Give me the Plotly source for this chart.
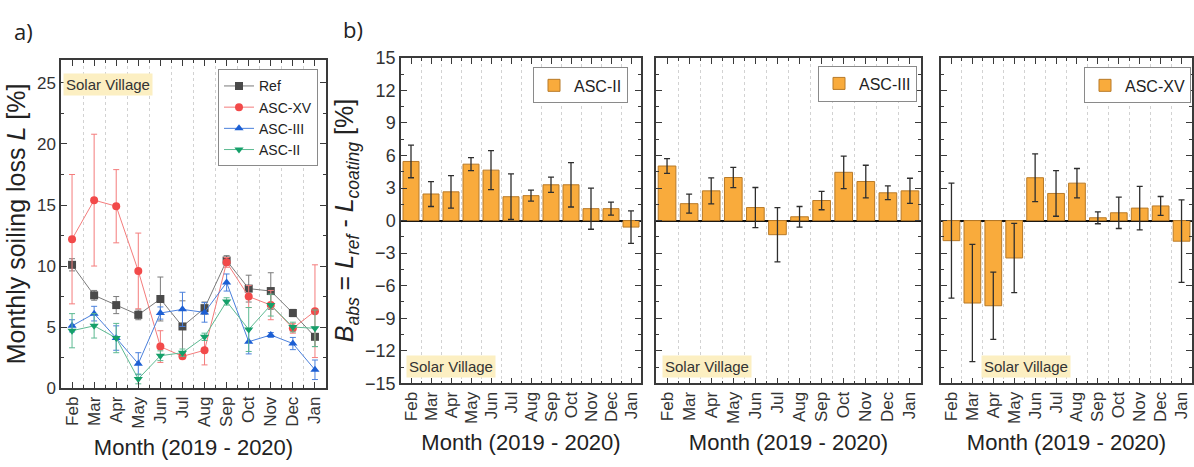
import plotly.graph_objects as go

# ---------------- data ----------------
months = ["Feb", "Mar", "Apr", "May", "Jun", "Jul", "Aug", "Sep", "Oct", "Nov", "Dec", "Jan"]

# Monthly soiling loss L [%] per module, with error bars
loss_ref = [10.1, 7.6, 6.8, 6.0, 7.3, 5.05, 6.55, 10.45, 8.15, 7.95, 6.15, 4.2]
loss_ref_err = [0.5, 0.4, 0.7, 0.4, 1.8, 2.1, 0.5, 0.4, 1.1, 1.5, 0.3, 0.8]
loss_xv = [12.2, 15.4, 14.9, 9.6, 3.4, 2.6, 3.1, 10.3, 7.5, 6.8, 4.9, 6.3]
loss_xv_err = [5.3, 5.4, 3.0, 3.1, 1.3, 0.2, 1.2, 0.4, 0.9, 1.2, 0.4, 3.8]
loss_iii = [5.1, 6.1, 4.1, 2.0, 6.15, 6.45, 6.2, 8.65, 3.8, 4.35, 3.65, 1.5]
loss_iii_err = [0.5, 0.6, 1.0, 0.9, 0.5, 1.4, 0.8, 0.7, 1.0, 0.2, 0.5, 0.8]
loss_ii = [4.7, 5.1, 4.1, 0.75, 2.65, 2.9, 4.2, 7.1, 4.8, 6.8, 5.0, 4.9]
loss_ii_err = [1.4, 1.0, 1.2, 0.4, 0.4, 0.3, 0.3, 0.3, 1.8, 0.9, 0.4, 1.5]

# Absolute benefit B_abs = L_ref - L_coating [%]
babs_ii = [5.45, 2.45, 2.65, 5.2, 4.65, 2.2, 2.3, 3.3, 3.3, 1.1, 1.1, -0.6]
babs_ii_err = [1.5, 1.15, 1.5, 0.6, 1.8, 2.1, 0.5, 0.7, 2.05, 1.9, 0.6, 1.5]
babs_iii = [5.03, 1.56, 2.74, 3.97, 1.2, -1.3, 0.35, 1.85, 4.45, 3.6, 2.56, 2.74]
babs_iii_err = [0.68, 0.88, 1.2, 0.94, 1.85, 2.5, 0.95, 0.85, 1.5, 1.5, 0.63, 1.16]
babs_xv = [-1.85, -7.6, -7.85, -3.45, 3.95, 2.5, 3.45, 0.26, 0.72, 1.15, 1.35, -1.9]
babs_xv_err = [5.3, 5.4, 3.1, 3.2, 2.2, 2.1, 1.35, 0.55, 1.45, 2.0, 0.87, 3.8]

a_yticks = [0, 5, 10, 15, 20, 25]
b_yticks = [-15, -12, -9, -6, -3, 0, 3, 6, 9, 12, 15]

# ---------------- styling ----------------
W, H = 1194, 467
FONT = "Liberation Sans, Arial, sans-serif"
AXIS_COLOR = "#3a3a3a"
GRID_COLOR = "#d2d2d2"
BAR_FILL = "#F9AB3C"
BAR_EDGE = "#B87A28"
LABEL_BG = "#FCEFC2"

xidx = list(range(len(months)))


def px_x(p):
    return p / W


def px_y(p):
    return (H - p) / H


fig = go.Figure()

# ---------------- panel a: line + marker series ----------------
line_series = [
    ("Ref", loss_ref, loss_ref_err, "square", "#4a4a4a", "#7a7a7a"),
    ("ASC-XV", loss_xv, loss_xv_err, "circle", "#F24A4A", "#F47C7C"),
    ("ASC-III", loss_iii, loss_iii_err, "triangle-up", "#1C5FD4", "#4A80DC"),
    ("ASC-II", loss_ii, loss_ii_err, "triangle-down", "#15A06A", "#5DBA92"),
]
for name, vals, errs, sym, mcol, lcol in line_series:
    fig.add_trace(go.Scatter(
        x=xidx, y=vals, name=name, mode="lines+markers",
        xaxis="x", yaxis="y", legend="legend",
        line=dict(color=lcol, width=1),
        marker=dict(symbol=sym, size=8, color=mcol),
        error_y=dict(type="data", array=errs, color=lcol, thickness=1, width=3),
    ))

# ---------------- panel b: bar subplots ----------------
bar_series = [
    ("ASC-II", babs_ii, babs_ii_err, "x2", "y2", "legend2"),
    ("ASC-III", babs_iii, babs_iii_err, "x3", "y3", "legend3"),
    ("ASC-XV", babs_xv, babs_xv_err, "x4", "y4", "legend4"),
]
for name, vals, errs, xa, ya, lg in bar_series:
    fig.add_trace(go.Bar(
        x=xidx, y=vals, name=name, xaxis=xa, yaxis=ya, legend=lg,
        width=0.8,
        marker=dict(color=BAR_FILL, line=dict(color=BAR_EDGE, width=1)),
        error_y=dict(type="data", array=errs, color="#2e2e2e", thickness=1.3, width=3),
    ))

# ---------------- axes ----------------
def x_axis(domain, anchor):
    return dict(
        domain=domain, anchor=anchor, range=[-0.5, 11.5],
        tickmode="array", tickvals=xidx, ticktext=months, tickangle=-90,
        tickfont=dict(family=FONT, size=17, color="#333"),
        ticks="inside", ticklen=6, tickwidth=1.2, tickcolor=AXIS_COLOR,
        showline=True, linecolor=AXIS_COLOR, linewidth=1.5, mirror="allticks",
        showgrid=False, zeroline=False,
        minor=dict(tickmode="array", tickvals=[i + 0.5 for i in range(-1, 12)],
                   ticks="inside", ticklen=3, tickcolor=AXIS_COLOR,
                   showgrid=True, gridcolor=GRID_COLOR, griddash="dot", gridwidth=1),
        title=dict(text="Month (2019 - 2020)",
                   font=dict(family=FONT, size=22, color="#222"), standoff=12),
    )


def y_axis(domain, anchor, rng, tickvals, minor_dtick, show_labels, title=None,
           tick_size=17):
    ax = dict(
        domain=domain, anchor=anchor, range=rng,
        tickmode="array", tickvals=tickvals, showticklabels=show_labels,
        tickfont=dict(family=FONT, size=tick_size, color="#333"),
        ticks="inside", ticklen=6, tickwidth=1.2, tickcolor=AXIS_COLOR,
        showline=True, linecolor=AXIS_COLOR, linewidth=1.5, mirror="allticks",
        showgrid=False, zeroline=False,
        minor=dict(dtick=minor_dtick, tick0=0, ticks="inside", ticklen=3,
                   tickcolor=AXIS_COLOR, showgrid=False),
    )
    if title:
        ax["title"] = dict(text=title, font=dict(family=FONT, size=25, color="#222"),
                           standoff=4)
    return ax


ya_dom = [px_y(395), px_y(52)]
yb_dom = [px_y(390), px_y(50)]

layout_axes = dict(
    xaxis=x_axis([px_x(61), px_x(326)], "y"),
    yaxis=y_axis(ya_dom, "x", [0, 26.9], a_yticks, 2.5, True,
                 "Monthly soiling loss <i>L</i> [%]"),
    xaxis2=x_axis([px_x(401), px_x(641)], "y2"),
    yaxis2=y_axis(yb_dom, "x2", [-15, 15], b_yticks, 1.5, True,
                  "<i>B<sub>abs</sub></i> = <i>L<sub>ref</sub></i> - "
                  "<i>L<sub>coating</sub></i> [%]", tick_size=18),
    xaxis3=x_axis([px_x(656), px_x(921)], "y3"),
    yaxis3=y_axis(yb_dom, "x3", [-15, 15], b_yticks, 1.5, False),
    xaxis4=x_axis([px_x(941), px_x(1192)], "y4"),
    yaxis4=y_axis(yb_dom, "x4", [-15, 15], b_yticks, 1.5, False),
)
for k in ("yaxis2", "yaxis3", "yaxis4"):
    layout_axes[k].update(zeroline=True, zerolinecolor="#111", zerolinewidth=1.5)

# ---------------- legends ----------------
def legend_box(right_px, top_px, size):
    return dict(
        x=px_x(right_px), y=px_y(top_px), xanchor="right", yanchor="top",
        xref="paper", yref="paper",
        bgcolor="white", bordercolor="#8a8a8a", borderwidth=1,
        font=dict(family=FONT, size=size, color="#222"),
        tracegroupgap=0, itemwidth=30,
    )


# ---------------- annotations ----------------
annotations = [
    dict(text="a)", x=px_x(12), y=px_y(4), xref="paper", yref="paper",
         xanchor="left", yanchor="top", showarrow=False,
         font=dict(family="Open Sans, sans-serif", size=22, color="#222")),
    dict(text="b)", x=px_x(341), y=px_y(2), xref="paper", yref="paper",
         xanchor="left", yanchor="top", showarrow=False,
         font=dict(family="Open Sans, sans-serif", size=22, color="#222")),
    dict(text="Solar Village", x=px_x(63), y=px_y(66), xref="paper", yref="paper",
         xanchor="left", yanchor="top", showarrow=False, bgcolor=LABEL_BG,
         borderpad=2, font=dict(family=FONT, size=15, color="#333")),
]
for left in (406, 662, 981):
    annotations.append(dict(
        text="Solar Village", x=px_x(left), y=px_y(384), xref="paper", yref="paper",
        xanchor="left", yanchor="bottom", showarrow=False, bgcolor=LABEL_BG,
        borderpad=2, font=dict(family=FONT, size=15, color="#333")))

fig.update_layout(
    width=W, height=H,
    margin=dict(l=0, r=0, t=0, b=0),
    paper_bgcolor="white", plot_bgcolor="white",
    font=dict(family=FONT, color="#222"),
    bargap=0.2,
    legend=legend_box(318, 62, 14),
    legend2=legend_box(628, 60, 16),
    legend3=legend_box(917, 58, 16),
    legend4=legend_box(1191, 60, 16),
    annotations=annotations,
    **layout_axes,
)

fig.write_html("out.html")
